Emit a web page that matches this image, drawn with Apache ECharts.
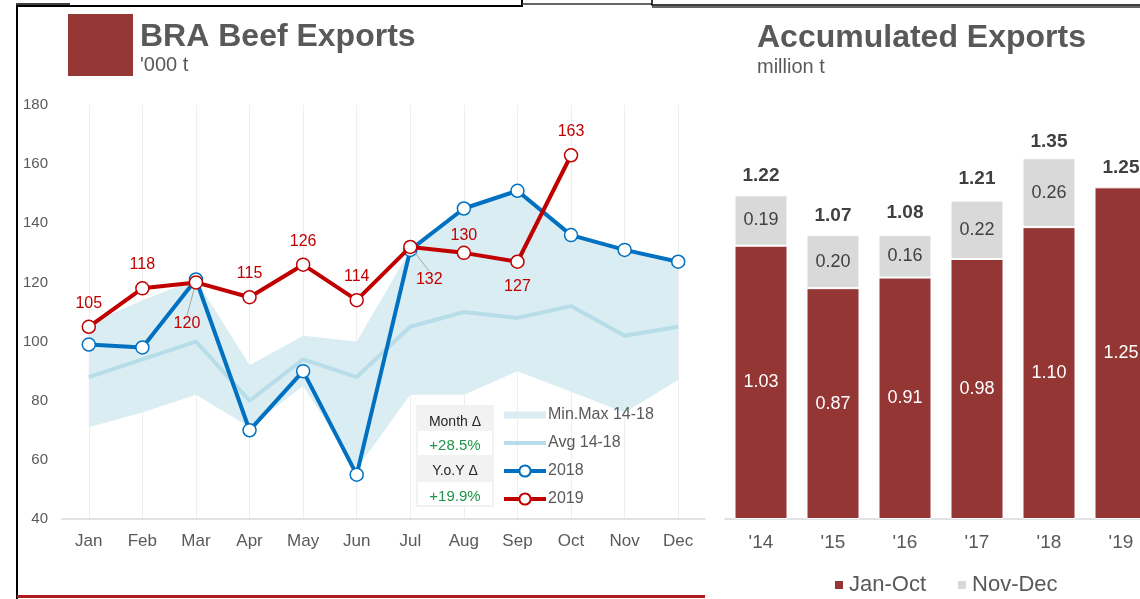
<!DOCTYPE html>
<html>
<head>
<meta charset="utf-8">
<script src="https://cdn.jsdelivr.net/npm/echarts@6/dist/echarts.min.js"></script>
<style>
    html, body {margin: 0; padding: 0; background: #fff;}
    #chart {width: 1140px; height: 599px;}
</style>
</head>
<body>
<div id="chart"></div>
<script>
// 月度出口 ('000 t)
const months = ['Jan', 'Feb', 'Mar', 'Apr', 'May', 'Jun', 'Jul', 'Aug', 'Sep', 'Oct', 'Nov', 'Dec']
const v2019 = [105, 118, 120, 115, 126, 114, 132, 130, 127, 163, null, null]
const v2018 = [99, 98, 121, 70, 90, 55, 131, 145, 151, 136, 131, 127]
const avg1418 = [88, 94, 100, 80, 94, 88, 105, 110, 108, 112, 102, 105]
const min1418 = [71, 76, 82, 71, 85, 57, 82, 82, 90, 83, 76, 87]
const max1418 = [106, 114, 121, 92, 102, 100, 131, 145, 151, 136, 131, 127]
const yTicks = [40, 60, 80, 100, 120, 140, 160, 180]

// 累计出口 (million t)
const years = ["'14", "'15", "'16", "'17", "'18", "'19"]
const janOct = [1.03, 0.87, 0.91, 0.98, 1.10, 1.25]
const novDec = [0.19, 0.20, 0.16, 0.22, 0.26, null]
const totals = [1.22, 1.07, 1.08, 1.21, 1.35, 1.25]

const deltaMonth = '+28.5%'
const deltaYoY = '+19.9%'

const FONT = '"Liberation Sans", Arial, sans-serif'
const GREY = '#595959'
const RED = '#c00000'
const BLUE = '#0070c0'
const BAR_RED = '#943634'

const bandDiff = max1418.map((v, i) => v - min1418[i])

const myChart = echarts.init(document.getElementById('chart'))

const pointLabel = (extra) => Object.assign({
    show: true, position: 'top', distance: 8,
    color: RED, fontSize: 16, fontFamily: FONT,
}, extra || {})

const data2019 = v2019.map((v, i) => {
    if (v === null) return null
    if (i === 2 || i === 6) {
        return {value: v, label: pointLabel({position: 'bottom'}), labelLine: {show: true, lineStyle: {color: '#a6a6a6', width: 1}}}
    }
    if (i === 8) return {value: v, label: pointLabel({position: 'bottom', distance: 10})}
    if (i === 7) return {value: v, label: pointLabel({distance: 2})}
    return {value: v, label: pointLabel()}
})

const cellText = (y, text, color, size) => ({
    type: 'text', x: 455, y: y, z: 101,
    style: {text: text, fill: color, font: size + 'px ' + FONT, textAlign: 'center', textVerticalAlign: 'middle'},
})

const option = {
    animation: false,
    textStyle: {fontFamily: FONT},
    title: [
        {
            text: 'BRA Beef Exports', subtext: "'000 t",
            left: 140, top: 21, itemGap: 2, padding: 0,
            textStyle: {fontSize: 32, fontWeight: 'bold', color: GREY, fontFamily: FONT},
            subtextStyle: {fontSize: 20, color: GREY, fontFamily: FONT},
        },
        {
            text: 'Accumulated Exports', subtext: 'million t',
            left: 757, top: 22, itemGap: 3, padding: 0,
            textStyle: {fontSize: 32, fontWeight: 'bold', color: GREY, fontFamily: FONT},
            subtextStyle: {fontSize: 20, color: GREY, fontFamily: FONT},
        },
    ],
    legend: [
        {
            orient: 'vertical', left: 497, top: 402,
            itemWidth: 42, itemHeight: 14, itemGap: 12,
            lineStyle: {width: 4},
            textStyle: {fontSize: 16, color: GREY, fontFamily: FONT, padding: [0, 0, 0, -3]},
            data: [
                {name: 'Min.Max 14-18', icon: 'path://M0,0h42v7h-42z'},
                {name: 'Avg 14-18', icon: 'path://M0,0h42v4h-42z'},
                '2018', '2019',
            ],
        },
        {
            left: 828, top: 569,
            itemWidth: 10, itemHeight: 10, itemGap: 30,
            icon: 'rect',
            textStyle: {fontSize: 22, color: GREY, fontFamily: FONT},
            data: ['Jan-Oct', 'Nov-Dec'],
        },
    ],
    grid: [
        {left: 62, top: 105, width: 643, height: 414, outerBoundsMode: 'none'},
        {left: 725, top: 121, width: 432, height: 398, outerBoundsMode: 'none'},
    ],
    xAxis: [
        {
            type: 'category', gridIndex: 0, data: months,
            axisLine: {lineStyle: {color: '#d9d9d9', width: 1.5}},
            axisTick: {show: false},
            axisLabel: {color: GREY, fontSize: 17, margin: 14, interval: 0, fontFamily: FONT},
            splitLine: {show: true, alignWithLabel: true, lineStyle: {color: '#eeeeee', width: 1}},
        },
        {
            type: 'category', gridIndex: 1, data: years,
            axisLine: {lineStyle: {color: '#d9d9d9', width: 1.5}},
            axisTick: {show: false},
            axisLabel: {color: GREY, fontSize: 19, margin: 14, fontFamily: FONT},
        },
    ],
    yAxis: [
        {
            type: 'value', gridIndex: 0,
            min: yTicks[0], max: yTicks[yTicks.length - 1], interval: 20,
            axisLine: {show: false}, axisTick: {show: false},
            splitLine: {show: false},
            axisLabel: {color: GREY, fontSize: 15, margin: 14, fontFamily: FONT},
        },
        {
            type: 'value', gridIndex: 1, min: 0, max: 1.5, show: false,
        },
    ],
    series: [
        {
            name: 'band-min', type: 'line', xAxisIndex: 0, yAxisIndex: 0,
            stack: 'band', data: min1418, symbol: 'none', silent: true,
            lineStyle: {opacity: 0},
        },
        {
            name: 'Min.Max 14-18', type: 'line', xAxisIndex: 0, yAxisIndex: 0,
            stack: 'band', data: bandDiff, symbol: 'none', silent: true,
            color: '#daedf3',
            lineStyle: {opacity: 0},
            areaStyle: {color: '#daedf3', opacity: 1},
        },
        {
            name: 'Avg 14-18', type: 'line', xAxisIndex: 0, yAxisIndex: 0,
            data: avg1418, symbol: 'none',
            color: '#b7dde8',
            lineStyle: {color: '#b7dde8', width: 4},
        },
        {
            name: '2018', type: 'line', xAxisIndex: 0, yAxisIndex: 0,
            data: v2018, symbol: 'circle', symbolSize: 13,
            color: BLUE,
            lineStyle: {color: BLUE, width: 4},
            itemStyle: {color: '#fff', borderColor: BLUE, borderWidth: 1.5},
            z: 3,
        },
        {
            name: '2019', type: 'line', xAxisIndex: 0, yAxisIndex: 0,
            data: data2019, symbol: 'circle', symbolSize: 13,
            color: RED,
            lineStyle: {color: RED, width: 4},
            itemStyle: {color: '#fff', borderColor: RED, borderWidth: 1.5},
            labelLayout: (params) => {
                if (params.dataIndex === 2) return {dx: -9, dy: 18}
                if (params.dataIndex === 6) return {dx: 19, dy: 9}
                return {}
            },
            z: 4,
        },
        // 右侧柱状图
        {
            name: 'total', type: 'bar', xAxisIndex: 1, yAxisIndex: 1,
            data: totals, barWidth: 53, barGap: '-100%', silent: true,
            itemStyle: {color: 'rgba(0,0,0,0)'},
            label: {show: true, position: 'top', distance: 10, color: '#404040', fontSize: 19, fontWeight: 'bold', fontFamily: FONT,
                formatter: (p) => p.value.toFixed(2)},
            z: 1,
        },
        {
            name: 'Jan-Oct', type: 'bar', xAxisIndex: 1, yAxisIndex: 1,
            stack: 'acc', data: janOct, barWidth: 53,
            color: BAR_RED,
            itemStyle: {color: BAR_RED, borderColor: '#fff', borderWidth: 1},
            label: {show: true, position: 'inside', color: '#fff', fontSize: 18, fontFamily: FONT,
                formatter: (p) => p.value.toFixed(2)},
            z: 2,
        },
        {
            name: 'Nov-Dec', type: 'bar', xAxisIndex: 1, yAxisIndex: 1,
            stack: 'acc', data: novDec, barWidth: 53,
            color: '#d9d9d9',
            itemStyle: {color: '#d9d9d9', borderColor: '#fff', borderWidth: 1},
            label: {show: true, position: 'inside', color: '#404040', fontSize: 18, fontFamily: FONT,
                formatter: (p) => p.value.toFixed(2)},
            z: 2,
        },
    ],
    graphic: [
        // 标题色块
        {type: 'rect', shape: {x: 68, y: 14, width: 65, height: 62}, style: {fill: '#953735'}},
        // 变化率小表
        {type: 'rect', z: 100, shape: {x: 416, y: 405, width: 78, height: 102}, style: {fill: '#f2f2f2'}},
        {type: 'rect', z: 100, shape: {x: 418, y: 431, width: 74, height: 24}, style: {fill: '#fff'}},
        {type: 'rect', z: 100, shape: {x: 418, y: 482, width: 74, height: 23}, style: {fill: '#fff'}},
        cellText(422, 'Month Δ', '#262626', 14),
        cellText(446, deltaMonth, '#1e9448', 15),
        cellText(471, 'Y.o.Y Δ', '#262626', 14),
        cellText(497, deltaYoY, '#1e9448', 15),
        // 截图边框
        {type: 'polyline', shape: {points: [[17, 599], [17, 6], [522, 6], [522, 0]]}, style: {stroke: '#000', lineWidth: 2, fill: null}},
        {type: 'line', shape: {x1: 16, y1: 4, x2: 70, y2: 4}, style: {stroke: '#000', lineWidth: 1.5}},
        {type: 'line', shape: {x1: 522, y1: 4, x2: 652, y2: 4}, style: {stroke: '#333', lineWidth: 1.5}},
        {type: 'polyline', shape: {points: [[652, 0], [652, 5], [1140, 5]]}, style: {stroke: '#000', lineWidth: 1.5, fill: null}},
        {type: 'line', shape: {x1: 652, y1: 7, x2: 1140, y2: 7}, style: {stroke: '#333', lineWidth: 1.5}},
        {type: 'rect', shape: {x: 17, y: 595, width: 688, height: 3}, style: {fill: '#b0191e'}},
    ],
}

myChart.setOption(option)
</script>
</body>
</html>
